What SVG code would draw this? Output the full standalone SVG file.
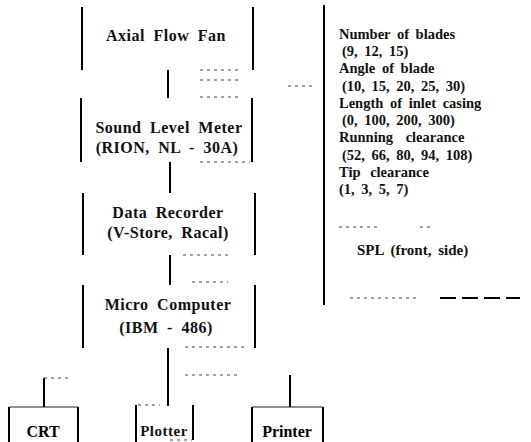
<svg xmlns="http://www.w3.org/2000/svg" width="531" height="442" viewBox="0 0 531 442">
<style>
.v{stroke:#000;stroke-width:2;fill:none}
.t{stroke:#222;stroke-width:1;fill:none}
.c{stroke:#000;stroke-width:2;fill:none}
.d{stroke:#444;stroke-width:1;stroke-dasharray:3 4;fill:none}
.bt{font-family:"Liberation Serif",serif;font-size:16px;font-weight:bold;text-anchor:middle;fill:#111;letter-spacing:0.5px;word-spacing:4px}
.rt{font-family:"Liberation Serif",serif;font-size:14.5px;font-weight:bold;fill:#111;word-spacing:3px}
.sb{font-family:"Liberation Serif",serif;font-size:16px;font-weight:bold;text-anchor:middle;fill:#000}
</style>
<rect width="531" height="442" fill="#fff"/>
<g id="connectors">
<line class="c" x1="168" y1="70" x2="168" y2="98"/>
<line class="c" x1="170" y1="162" x2="170" y2="193"/>
<line class="c" x1="170" y1="255" x2="170" y2="285"/>
<line class="c" x1="168" y1="348" x2="168" y2="406"/>
<line class="c" x1="44" y1="378" x2="44" y2="407"/>
<line class="d" x1="44" y1="378" x2="72" y2="378"/>
<line class="d" x1="185" y1="375" x2="240" y2="375"/>
<line class="c" x1="290" y1="375" x2="290" y2="407"/>
</g>
<g id="axial-flow-fan">
<line class="v" x1="82" y1="7" x2="82" y2="70"/>
<line class="v" x1="253" y1="7" x2="253" y2="70"/>
<line class="d" x1="200" y1="70" x2="240" y2="70"/>
<text class="bt" x="166" y="41">Axial Flow Fan</text>
</g>
<g id="sound-level-meter">
<line class="v" x1="81" y1="98" x2="81" y2="162"/>
<line class="v" x1="252" y1="98" x2="252" y2="162"/>
<line class="d" x1="200" y1="80" x2="240" y2="80"/>
<line class="d" x1="200" y1="97" x2="240" y2="97"/>
<line class="d" x1="200" y1="162" x2="250" y2="162"/>
<text class="bt" x="169" y="133">Sound Level Meter</text>
<text class="bt" x="167" y="153">(RION, NL - 30A)</text>
</g>
<g id="data-recorder">
<line class="v" x1="83" y1="193" x2="83" y2="255"/>
<line class="v" x1="255" y1="193" x2="255" y2="255"/>
<line class="d" x1="183" y1="255" x2="232" y2="255"/>
<text class="bt" x="168" y="218">Data Recorder</text>
<text class="bt" x="168" y="238">(V-Store, Racal)</text>
</g>
<g id="micro-computer">
<line class="v" x1="83" y1="285" x2="83" y2="348"/>
<line class="v" x1="255" y1="285" x2="255" y2="348"/>
<line class="d" x1="192" y1="282" x2="228" y2="282"/>
<line class="d" x1="185" y1="347" x2="245" y2="347"/>
<text class="bt" x="168" y="310">Micro Computer</text>
<text class="bt" x="166" y="333">(IBM - 486)</text>
</g>
<g id="crt">
<line class="v" x1="9" y1="407" x2="9" y2="442" stroke-width="1.5"/>
<line class="v" x1="78" y1="407" x2="78" y2="442" stroke-width="1.5"/>
<line class="t" x1="9" y1="407" x2="78" y2="407"/>
<text class="sb" x="43" y="437">CRT</text>
</g>
<g id="plotter">
<line class="v" x1="136" y1="405" x2="136" y2="442" stroke-width="1.5"/>
<line class="v" x1="193" y1="405" x2="193" y2="440" stroke-width="1.5"/>
<line class="d" x1="138" y1="405" x2="160" y2="405"/>
<line class="d" x1="170" y1="440" x2="192" y2="440"/>
<text class="bt" x="164" y="436" style="font-size:15px">Plotter</text>
</g>
<g id="printer">
<line class="v" x1="252" y1="407" x2="252" y2="442" stroke-width="1.5"/>
<line class="v" x1="323" y1="407" x2="323" y2="442" stroke-width="1.5"/>
<line class="t" x1="252" y1="407" x2="323" y2="407"/>
<text class="sb" x="287" y="437">Printer</text>
</g>
<g id="parameters">
<line class="v" x1="324" y1="5" x2="324" y2="305"/>
<line class="d" x1="288" y1="86" x2="312" y2="86"/>
<text class="rt" x="339" y="39">Number of blades</text>
<text class="rt" x="342" y="56">(9, 12, 15)</text>
<text class="rt" x="339" y="73">Angle of blade</text>
<text class="rt" x="342" y="91">(10, 15, 20, 25, 30)</text>
<text class="rt" x="339" y="108">Length of inlet casing</text>
<text class="rt" x="342" y="125">(0, 100, 200, 300)</text>
<text class="rt" x="339" y="142" style="word-spacing:9px">Running clearance</text>
<text class="rt" x="342" y="160">(52, 66, 80, 94, 108)</text>
<text class="rt" x="339" y="177" style="word-spacing:6px">Tip clearance</text>
<text class="rt" x="339" y="194">(1, 3, 5, 7)</text>
<line class="d" x1="339" y1="227" x2="380" y2="227"/>
<line class="d" x1="420" y1="227" x2="430" y2="227"/>
<text class="rt" x="357" y="255" style="font-size:15px">SPL (front, side)</text>
<line class="d" x1="350" y1="298" x2="420" y2="298"/>
<line class="c" x1="440" y1="298" x2="520" y2="298" stroke-width="1" stroke-dasharray="16 6"/>
</g>
</svg>
